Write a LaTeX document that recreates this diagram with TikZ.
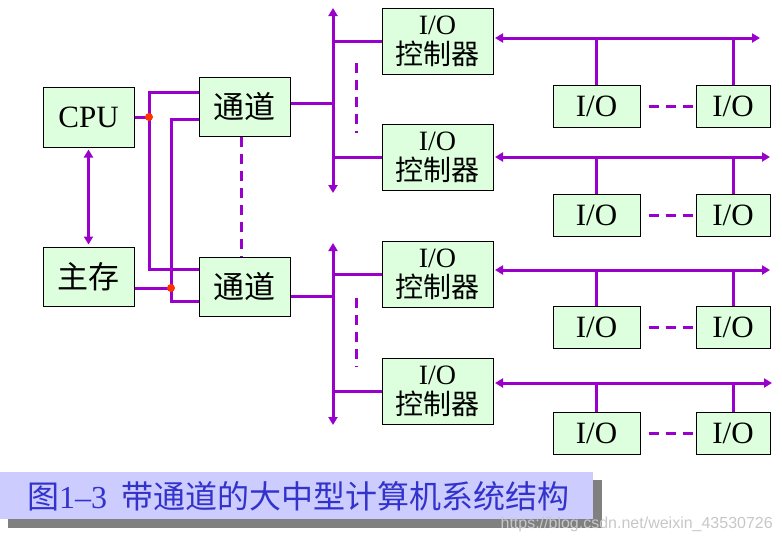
\documentclass[tikz,border=0pt]{standalone}
\usepackage{fontspec}
\setmainfont{Liberation Serif}
\newfontfamily\song{Noto Sans CJK SC}
\newfontfamily\hei{Noto Sans CJK SC}
\newfontfamily\markfont{Liberation Sans}
\usetikzlibrary{arrows.meta}
\definecolor{busPurple}{RGB}{153,0,204}
\definecolor{boxGreen}{RGB}{221,255,221}
\definecolor{dotRed}{RGB}{255,51,0}
\definecolor{capFill}{RGB}{204,204,255}
\definecolor{capInk}{RGB}{51,51,204}
\definecolor{capShade}{RGB}{128,128,128}
\tikzset{
  unit/.style={draw=black,line width=1pt,fill=boxGreen,inner sep=0pt,align=center,
    font=\fontsize{31}{26}\selectfont},
  ctlunit/.style={unit,minimum width=111pt,minimum height=66pt,font=\fontsize{28}{30}\selectfont},
  bus/.style={busPurple,line width=3pt},
  twoway/.style={bus,{Triangle[length=8pt,width=9pt]}-{Triangle[length=8pt,width=9pt]}},
  gap/.style={bus,dash pattern=on 10pt off 7pt},
}
\begin{document}
\begin{tikzpicture}[x=1pt,y=-1pt]
  \useasboundingbox (0,0) rectangle (782,542);
  %Notation: one row per I/O controller, top to bottom
  %NOTE! Everything is zero-based
  \def\ctlY{{41,157,274.5,391}}% controller centres
  \def\busY{{38,157,270,383}}% device buses
  \def\busEnd{{760,770,770,772}}% right end of each bus
  \def\ioY{{106,215.5,327,433.5}}% I/O device rows

  % CPU, memory and the two channels
  \node[unit,minimum width=91pt,minimum height=60pt] (cpu) at (88.5,117) {CPU};
  \node[unit,minimum width=91pt,minimum height=59pt] (mem) at (88.5,276.5) {\song 主存};
  \node[unit,minimum width=91pt,minimum height=59pt] (chA) at (244.5,106.5) {\song 通道};
  \node[unit,minimum width=91pt,minimum height=59pt] (chB) at (244.5,286.5) {\song 通道};
  \draw[twoway] ([yshift=-2pt]cpu.south) -- ([yshift=2pt]mem.north);
  \draw[gap] ([xshift=-3.5pt]chA.south) -- ([xshift=-3.5pt]chB.north);

  % Wiring from CPU and memory to the channels
  \coordinate (dotC) at (149,117);
  \coordinate (dotM) at (171,288);
  \draw[bus] (cpu.east) -- (dotC);
  \draw[bus] (dotM -| mem.east) -- (dotM);
  \draw[bus] ([yshift=14.5pt]chA.west) -| (dotC) |- ([yshift=17.5pt]chB.west);
  \draw[bus] ([yshift=-12.5pt]chA.west) -| (dotM) |- ([yshift=-14.5pt]chB.west);
  \fill[dotRed] (dotC) circle (4pt);
  \fill[dotRed] (dotM) circle (4pt);

  % Channel buses
  \coordinate (upTop) at (333,8);
  \coordinate (upBot) at (333,193);
  \coordinate (loTop) at (333,243);
  \coordinate (loBot) at (333,425);
  \draw[twoway] (upTop) -- (upBot);
  \draw[twoway] (loTop) -- (loBot);
  \draw[bus] ([yshift=3.5pt]chA.east) -- ([yshift=3.5pt]chA.east -| upTop);
  \draw[bus] ([yshift=-9.5pt]chB.east) -- ([yshift=-9.5pt]chB.east -| loTop);

  % Loop through the rows: controller, device bus and two devices
  \foreach \i in {0, ..., 3}{
      \pgfmathsetmacro{\cy}{\ctlY[\i]}% Get the controller height
      \pgfmathsetmacro{\by}{\busY[\i]}% Get the bus height
      \pgfmathsetmacro{\be}{\busEnd[\i]}% Get the bus end
      \pgfmathsetmacro{\iy}{\ioY[\i]}% Get the device row
      \node[ctlunit] (ctl\i) at (437.5,\cy) {I/O\\{\song 控制器}};
      \node[unit,minimum width=87pt,minimum height=42pt] (ioL\i) at (596.5,\iy) {I/O};
      \node[unit,minimum width=74pt,minimum height=42pt] (ioR\i) at (733,\iy) {I/O};
      \coordinate (busW\i) at (495,\by);
      \coordinate (busE\i) at (\be,\by);
      \draw[bus] (ctl\i.west) -- (ctl\i.west -| upTop);% Stub to the channel bus
      \draw[twoway] (busW\i) -- (busE\i);% Device bus
      \draw[bus] (ioL\i.north) -- (ioL\i.north |- busW\i);
      \draw[bus] (ioR\i.north) -- (ioR\i.north |- busW\i);
      \draw[gap] ([xshift=8pt]ioL\i.east) -- ([xshift=-3pt]ioR\i.west);
  }
  % Dashes between the controllers
  \draw[gap] ([shift={(-25pt,12pt)}]ctl0.south west) -- ([shift={(-25pt,-9pt)}]ctl1.north west);
  \draw[gap] ([shift={(-25pt,10pt)}]ctl2.south west) -- ([shift={(-25pt,-9pt)}]ctl3.north west);

  % Caption with its shadow
  \fill[capShade] (8,480) rectangle (602,528);
  \node[fill=capFill,minimum width=593pt,minimum height=47pt,inner sep=0pt,anchor=north west] (capBox) at (0,472) {};
  \node[anchor=west,inner sep=0pt,text=capInk,font=\hei\fontsize{32}{32}\selectfont] (capText) at (27,496)
    {图{\rmfamily 1--3}\hspace{14pt}带通道的大中型计算机系统结构};
  \node[anchor=base east,inner sep=0pt,text=black!22,font=\markfont\fontsize{16}{16}\selectfont] (mark) at (773,528)
    {https://blog.csdn.net/weixin\_43530726};
\end{tikzpicture}
\end{document}
